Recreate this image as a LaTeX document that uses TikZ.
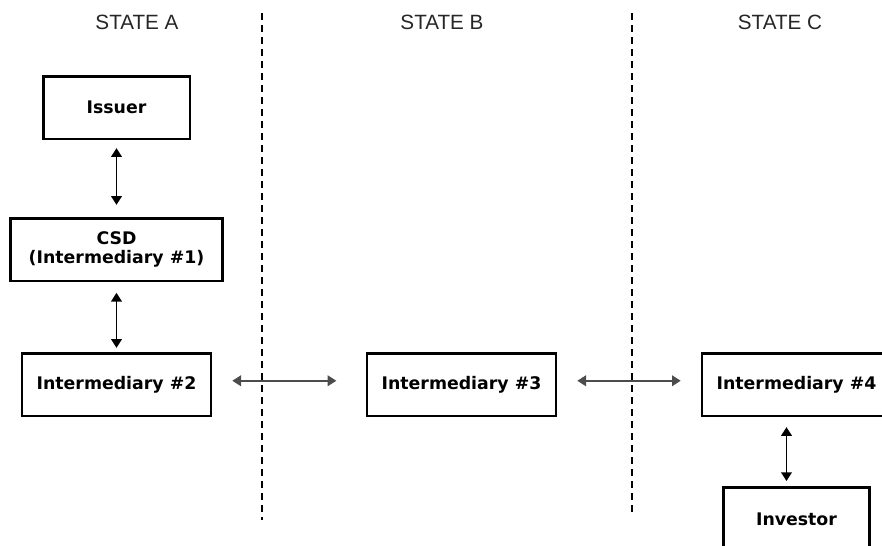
\documentclass[tikz,border=0pt]{standalone}
\usepackage{fontspec}
\usepackage{tikz}
\usetikzlibrary{arrows.meta}
\newfontfamily\boxfont{DejaVu Sans}
\newfontfamily\statefont{Liberation Sans}
\tikzset{
  party/.style={draw, line width=2pt, minimum height=47pt, align=center,
    font=\boxfont\bfseries\fontsize{13}{14.5}\selectfont},
  link/.style={<->, line width=1.1pt, >={Triangle[length=6.5pt,width=8pt]}},
  border/.style={line width=2pt, dash pattern=on 5.5pt off 3.5pt}
}
\begin{document}
\begin{tikzpicture}[x=0.75pt, y=-0.75pt]
    \def \top {13}
    \useasboundingbox (0,0) rectangle (882,546);
    % state names and borders
    \foreach \s/\x in {A/137, B/442, C/780}
      \node[font=\statefont\fontsize{15.5}{17}\selectfont, text=black!85] (state\s) at (\x,22) {STATE \s};
    \draw[border] (262,\top) -- (262,520);
    \draw[border] (632,\top) -- (632,513);
    % holding chain
    \node[party, minimum width=110pt] (issuer) at (116.5,107.5) {Issuer};
    \node[party, minimum width=159pt] (csd) at (116.5,249.5) {CSD\\(Intermediary \#1)};
    \node[party, minimum width=141.75pt] (int2) at (116.5,384.5) {Intermediary \#2};
    \node[party, minimum width=141.75pt] (int3) at (461.5,384.5) {Intermediary \#3};
    \node[party, minimum width=141.75pt] (int4) at (796.5,384.5) {Intermediary \#4};
    \node[party, minimum width=109.5pt] (inv) at (796.5,519) {Investor};
    \draw[link, shorten <=6pt, shorten >=9pt] (issuer) -- (csd);
    \draw[link, shorten <=8pt, shorten >=3pt] (csd) -- (int2);
    \draw[link, draw=black!70, shorten <=15pt, shorten >=22pt]
      ([yshift=2.8pt]int2.east) -- ([yshift=2.8pt]int3.west);
    \draw[link, draw=black!70, shorten <=15pt, shorten >=15pt]
      ([yshift=2.8pt]int3.east) -- ([yshift=2.8pt]int4.west);
    \draw[link, shorten <=7.5pt, shorten >=4pt]
      ([xshift=-7.5pt]int4.south) -- ([xshift=-7.5pt]inv.north);
\end{tikzpicture}
\end{document}
